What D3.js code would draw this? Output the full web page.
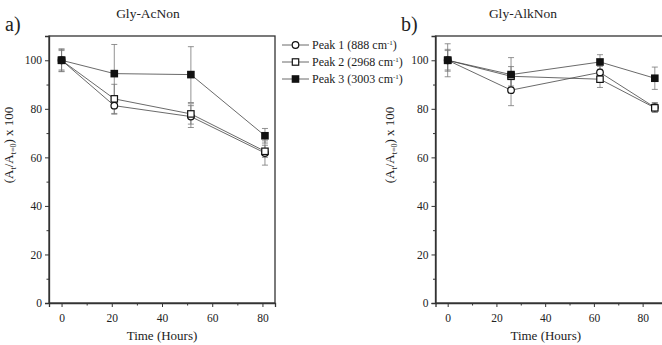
<!DOCTYPE html>
<html>
<head>
<meta charset="utf-8">
<script src="https://cdn.jsdelivr.net/npm/d3@7"></script>
<style>
  body { margin: 0; background: #fff; }
  text { font-family: "Liberation Serif", "Times New Roman", serif; fill: #222; }
</style>
</head>
<body>
<div id="chart"></div>
<script>
var width = 662, height = 345;

// panel a) Gly-AcNon
var timesA = [0, 21, 51.5, 81];
var peak1A = [100, 81.3, 76.8, 61.8];
var peak1AErr = [4, 3.5, 4.5, 5];
var peak2A = [100, 84.1, 77.9, 62.5];
var peak2AErr = [4.5, 6, 4.2, 2.5];
var peak3A = [100, 94.5, 94.1, 68.9];
var peak3AErr = [4.7, 12, 11.5, 3];

// panel b) Gly-AlkNon
var timesB = [0, 26, 62.5, 85];
var peak1B = [100, 87.7, 95, 80.6];
var peak1BErr = [6.8, 6.4, 2.5, 2];
var peak2B = [100, 93.4, 92.2, 80.4];
var peak2BErr = [4.5, 4, 3.4, 1.8];
var peak3B = [100, 94.1, 99.3, 92.6];
var peak3BErr = [4, 7, 3, 4.6];

var seriesNames = ["Peak 1 (888 cm", "Peak 2 (2968 cm", "Peak 3 (3003 cm"];
var yTicks = [0, 20, 40, 60, 80, 100];
var xTicks = [0, 20, 40, 60, 80];

var svg = d3.select('#chart').append('svg')
    .attr('width', width)
    .attr('height', height)

var plotTop = 36, plotBottom = 303;

function drawPanel(left, right, xDomain, letter, letterX, title, titleX, times, series, ylabX) {
    var x = d3.scaleLinear().domain(xDomain).range([left, right]);
    var y = d3.scaleLinear().domain([0, 110]).range([plotBottom, plotTop]);
    var g = svg.append('g');

    // frame
    g.append('rect')
        .attr('x', left).attr('y', plotTop)
        .attr('width', right - left).attr('height', plotBottom - plotTop)
        .attr('fill', 'none').attr('stroke', '#333').attr('stroke-width', 1.3);

    // y axis
    g.append('g').attr('transform', 'translate(' + left + ',0)')
        .call(d3.axisLeft(y).tickValues(yTicks).tickSize(4).tickPadding(3));
    g.append('g').attr('transform', 'translate(' + left + ',0)')
        .call(d3.axisLeft(y).tickValues([10, 30, 50, 70, 90]).tickSize(2.5).tickFormat(''))
        .select('.domain').remove();

    // x axis
    g.append('g').attr('transform', 'translate(0,' + plotBottom + ')')
        .call(d3.axisBottom(x).tickValues(xTicks).tickSize(4).tickPadding(7));
    g.append('g').attr('transform', 'translate(0,' + plotBottom + ')')
        .call(d3.axisBottom(x).tickValues([10, 30, 50, 70]).tickSize(2.5).tickFormat(''))
        .select('.domain').remove();

    g.selectAll('.domain').attr('stroke', '#333').attr('stroke-width', 1.3);
    g.selectAll('.tick line').attr('stroke', '#333');
    g.selectAll('.tick text')
        .style('font-family', '"Liberation Serif", serif')
        .style('font-size', '11.5px').attr('fill', '#222');

    // axis titles
    g.append('text')
        .attr('x', (left + Math.min(right, 662)) / 2 + (right > 662 ? -3 : 0))
        .attr('y', 340)
        .attr('text-anchor', 'middle')
        .style('font-size', '13px')
        .text('Time (Hours)');

    var yl = g.append('text')
        .attr('transform', 'translate(' + ylabX + ',145) rotate(-90)')
        .attr('text-anchor', 'middle')
        .style('font-size', '13px');
    yl.append('tspan').text('(A');
    yl.append('tspan').attr('dy', 3).style('font-size', '8px').text('t');
    yl.append('tspan').attr('dy', -3).text('/A');
    yl.append('tspan').attr('dy', 3).style('font-size', '8px').text('t=0');
    yl.append('tspan').attr('dy', -3).text(') x 100');

    // titles
    g.append('text').attr('x', letterX).attr('y', 31)
        .style('font-size', '20px').text(letter);
    g.append('text').attr('x', titleX).attr('y', 18)
        .attr('text-anchor', 'middle')
        .style('font-size', '13.5px').text(title);

    var line = d3.line()
        .x(function(d) { return x(d.t); })
        .y(function(d) { return y(d.v); });

    series.forEach(function(s, i) {
        var pts = times.map(function(t, j) { return {t: t, v: s.vals[j], e: s.err[j]}; });
        var sg = g.append('g');
        // error bars
        pts.forEach(function(d) {
            sg.append('line')
                .attr('x1', x(d.t)).attr('x2', x(d.t))
                .attr('y1', y(d.v + d.e)).attr('y2', y(d.v - d.e))
                .attr('stroke', '#777').attr('stroke-width', 0.8);
            [d.v + d.e, d.v - d.e].forEach(function(v) {
                sg.append('line')
                    .attr('x1', x(d.t) - 3).attr('x2', x(d.t) + 3)
                    .attr('y1', y(v)).attr('y2', y(v))
                    .attr('stroke', '#777').attr('stroke-width', 0.8);
            });
        });
        sg.append('path').datum(pts)
            .attr('d', line)
            .attr('fill', 'none').attr('stroke', '#444').attr('stroke-width', 0.8);
    });
    series.forEach(function(s, i) {
        times.forEach(function(t, j) {
            drawMarker(g, i, x(t), y(s.vals[j]));
        });
    });
}

function drawMarker(g, i, cx, cy) {
    if (i === 0) {
        g.append('circle').attr('cx', cx).attr('cy', cy).attr('r', 3.3)
            .attr('fill', '#fff').attr('stroke', '#111').attr('stroke-width', 1.2);
    } else if (i === 1) {
        g.append('rect').attr('x', cx - 3.2).attr('y', cy - 3.2)
            .attr('width', 6.4).attr('height', 6.4)
            .attr('fill', '#fff').attr('stroke', '#111').attr('stroke-width', 1.2);
    } else {
        g.append('rect').attr('x', cx - 3.8).attr('y', cy - 3.8)
            .attr('width', 7.6).attr('height', 7.6)
            .attr('fill', '#111');
    }
}

drawPanel(49, 275, [-5, 85], 'a)', 5, 'Gly-AcNon', 148, timesA, [
    {vals: peak1A, err: peak1AErr},
    {vals: peak2A, err: peak2AErr},
    {vals: peak3A, err: peak3AErr}
], 13);

drawPanel(435.5, 667, [-5, 90], 'b)', 401, 'Gly-AlkNon', 523, timesB, [
    {vals: peak1B, err: peak1BErr},
    {vals: peak2B, err: peak2BErr},
    {vals: peak3B, err: peak3BErr}
], 394);

// legend
var legend = svg.append('g');
seriesNames.forEach(function(name, i) {
    var ly = 45 + i * 17;
    legend.append('line')
        .attr('x1', 282).attr('x2', 309).attr('y1', ly).attr('y2', ly)
        .attr('stroke', '#444').attr('stroke-width', 0.8);
    drawMarker(legend, i, 295.5, ly);
    var t = legend.append('text').attr('x', 312).attr('y', ly + 4)
        .style('font-size', '12px');
    t.append('tspan').text(name);
    t.append('tspan').attr('dy', -4).style('font-size', '7px').text('-1');
    t.append('tspan').attr('dy', 4).text(')');
});
</script>
</body>
</html>
